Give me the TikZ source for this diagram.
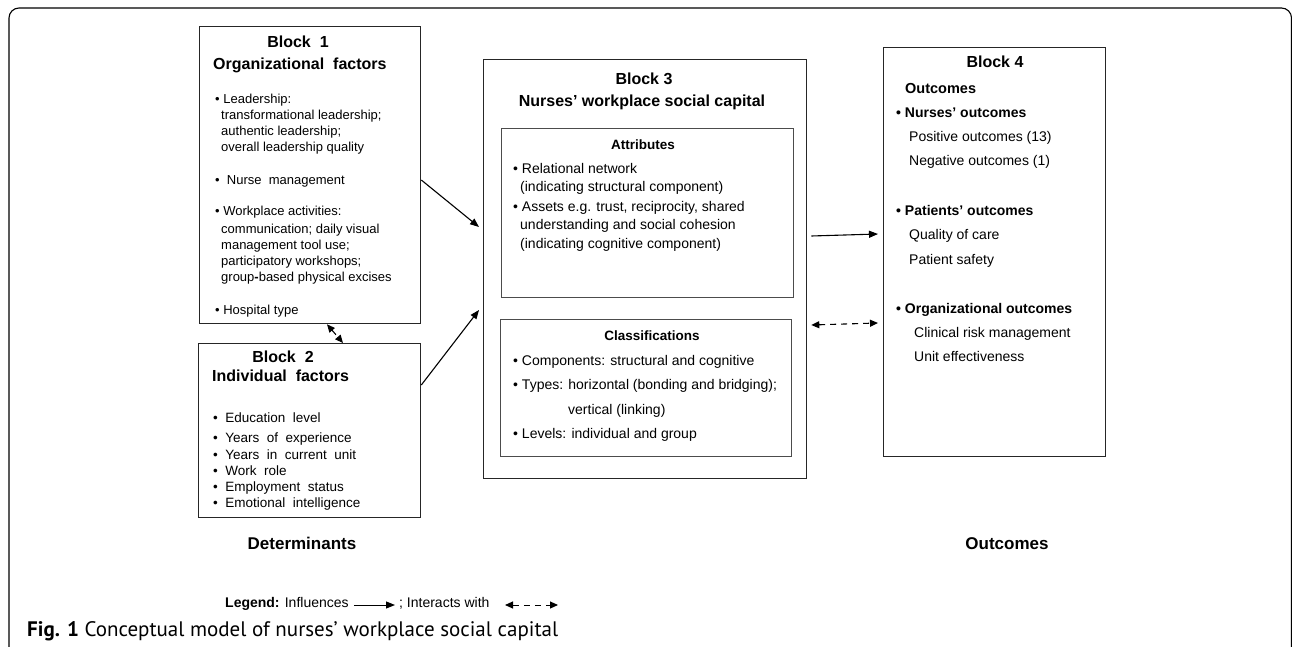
\documentclass[tikz,border=0pt]{standalone}
\usepackage{fontspec}
\setmainfont{Liberation Sans}
\newfontfamily\capfont{PT Sans}
\usetikzlibrary{arrows.meta,calc}
\begin{document}
\begin{tikzpicture}[x=1pt,y=-1pt,
  blk/.style={draw=black!85, line width=1.3pt, inner sep=0pt, anchor=north west},
  subbox/.style={draw=black!70, line width=0.8pt, inner sep=0pt, anchor=north west},
  t/.style={anchor=west, inner sep=0pt, font=\fontsize{13}{15}\selectfont, text height=0.72em, text depth=0.2em},
  tm/.style={t, font=\fontsize{14}{16}\selectfont},
  tb/.style={t, font=\fontsize{14}{16}\selectfont\bfseries},
  th/.style={anchor=center, inner sep=0pt, font=\fontsize{16}{18}\selectfont\bfseries, text height=0.72em, text depth=0.2em},
  tl/.style={anchor=west, inner sep=0pt, font=\fontsize{16}{18}\selectfont\bfseries, text height=0.72em, text depth=0.2em},
  inf/.style={line width=1.1pt, -{Triangle[length=9pt,width=7pt]}},
  inter/.style={line width=1.1pt, dash pattern=on 6pt off 5pt, {Triangle[length=8pt,width=7pt]}-{Triangle[length=8pt,width=7pt]}},
]
\useasboundingbox (0,0) rectangle (1292,647);
% outer frame
\draw[line width=1.1pt, rounded corners=10pt] (9,660) -- (9,8) -- (1291.5,8) -- (1291.5,660);

% boxes
\node[blk, minimum width=221pt, minimum height=297pt] (b1) at (199,26) {};
\node[blk, minimum width=222pt, minimum height=174pt] (b2) at (198,343) {};
\node[blk, minimum width=323pt, minimum height=419pt] (b3) at (483,59) {};
\node[subbox, minimum width=292pt, minimum height=169pt] (attr) at (501,128) {};
\node[subbox, minimum width=291pt, minimum height=137pt] (cls) at (500,319) {};
\node[blk, minimum width=222pt, minimum height=409pt] (b4) at (883,47) {};

% Block 1 text
\node[th] (b1t) at (298,45) {Block\ \ 1};
\node[tl] (b1s) at (213,67) {Organizational\ \ factors};
\node[t] (b1a) at (215,101) {• Leadership:};
\node[t] (b1b) at (221,117) {transformational leadership;};
\node[t] (b1c) at (221,133) {authentic leadership;};
\node[t] (b1d) at (221,149) {overall leadership quality};
\node[t] (b1e) at (215,182) {•\ \ Nurse\ \ management};
\node[t] (b1f) at (215,213) {• Workplace activities:};
\node[t] (b1g) at (221,231) {communication; daily visual};
\node[t] (b1h) at (221,247) {management tool use;};
\node[t] (b1i) at (221,263) {participatory workshops;};
\node[t] (b1j) at (221,279) {group\textbf{-}based physical excises};
\node[t] (b1k) at (215,312) {• Hospital type};

% Block 2 text
\begin{scope}[every node/.style={t, font=\fontsize{13.5}{15}\selectfont}]
\node (b2a) at (213,420) {•\ \ Education\ \ level};
\node (b2b) at (213,440) {•\ \ Years\ \ of\ \ experience};
\node (b2c) at (213,457) {•\ \ Years\ \ in\ \ current\ \ unit};
\node (b2d) at (213,473) {•\ \ Work\ \ role};
\node (b2e) at (213,489) {•\ \ Employment\ \ status};
\node (b2f) at (213,505) {•\ \ Emotional\ \ intelligence};
\end{scope}
\node[th] (b2t) at (283,360) {Block\ \ 2};
\node[tl] (b2s) at (212,379) {Individual\ \ factors};

% Block 3 text
\node[th] (b3t) at (644,82) {Block 3};
\node[th] (b3s) at (642,104) {Nurses’ workplace social capital};
\node[th, font=\fontsize{13.5}{15}\selectfont\bfseries] (at) at (643,147) {Attributes};
\node[tm] (a1) at (513,171) {• Relational network};
\node[tm] (a2) at (520,189) {(indicating structural component)};
\node[tm] (a3) at (513,209) {• Assets e.g. trust, reciprocity, shared};
\node[tm] (a4) at (520,227) {understanding and social cohesion};
\node[tm] (a5) at (520,246) {(indicating cognitive component)};
\node[th, font=\fontsize{13.5}{15}\selectfont\bfseries] (ct) at (652,338) {Classifications};
\node[tm] (c1) at (513,363) {• Components: structural and cognitive};
\node[tm] (c2) at (513,387) {• Types: horizontal (bonding and bridging);};
\node[tm] (c3) at (568,412) {vertical (linking)};
\node[tm] (c4) at (513,436) {• Levels: individual and group};

% Block 4 text
\node[th] (b4t) at (995,65) {Block 4};
\node[tl, font=\fontsize{14.5}{16}\selectfont\bfseries] (b4s) at (905,91) {Outcomes};
\node[tb] (o1) at (896,115) {• Nurses’ outcomes};
\node[tm] (o2) at (909,139) {Positive outcomes (13)};
\node[tm] (o3) at (909,163) {Negative outcomes (1)};
\node[tb] (o4) at (896,213) {• Patients’ outcomes};
\node[tm] (o5) at (909,237) {Quality of care};
\node[tm] (o6) at (909,262) {Patient safety};
\node[tb] (o7) at (896,311) {• Organizational outcomes};
\node[tm] (o8) at (914,335) {Clinical risk management};
\node[tm] (o9) at (914,359) {Unit effectiveness};

% connectors
\draw[inf] (b1.east |- 0,180) -- ($(b3.west |- 0,227)+(-4,0)$);
\draw[inf] (b2.east |- 0,385) -- ($(b3.west |- 0,310)+(-4,0)$);
\draw[inf] ($(b3.east |- 0,236)+(4,0)$) -- ($(b4.west |- 0,234)+(-5,0)$);
\draw[inter] ($(b3.east |- 0,325)+(4,0)$) -- ($(b4.west |- 0,323)+(-5,0)$);
\draw[inter] (b1.south -| 327,0) -- (b2.north -| 343,0);

% bottom labels
\node[th, font=\fontsize{17}{19}\selectfont\bfseries] (det) at (302,547) {Determinants};
\node[th, font=\fontsize{17}{19}\selectfont\bfseries] (out) at (1007,547) {Outcomes};

% legend
\node[t, font=\fontsize{14}{16}\selectfont] (lg1) at (225,605) {\textbf{Legend:} Influences};
\node[t, font=\fontsize{14}{16}\selectfont] (lg2) at (399,605) {; Interacts with};
\draw[inf, line width=1pt] ($(lg1.east)+(5,0)$) -- ($(lg2.west)+(-4,0)$);
\coordinate (lgd1) at (505,605);
\coordinate (lgd2) at (558,605);
\draw[inter, line width=1pt] (lgd1) -- (lgd2);

% caption
\node[anchor=west, inner sep=0pt, font=\capfont\fontsize{21}{23}\selectfont] (cap) at (27,631) {\textbf{Fig. 1} Conceptual model of nurses’ workplace social capital};
\end{tikzpicture}
\end{document}
